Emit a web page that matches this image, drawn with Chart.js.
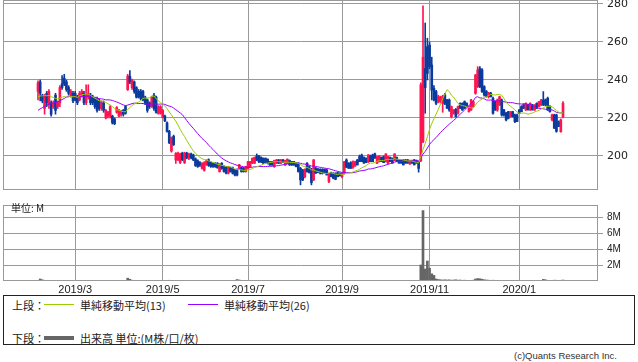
<!DOCTYPE html>
<html>
<head>
<meta charset="utf-8">
<script src="https://cdn.jsdelivr.net/npm/chart.js@4.4.1/dist/chart.umd.min.js"></script>
<style>
  body { margin: 0; width: 638px; height: 362px; background: #fff; position: relative; overflow: hidden;
         font-family: "Noto Sans CJK JP", "DejaVu Sans", sans-serif; color: #222; }
  #priceChart { position: absolute; left: 0; top: 0; }
  #volChart { position: absolute; left: 0; top: 195px; }
  .unit { position: absolute; left: 11px; top: 202px; font-size: 10px; line-height: 12px; }
  #legend { position: absolute; left: 3px; top: 295px; width: 632px; height: 50px; border: 1px solid #222; box-sizing: border-box; }
  #legend .t { position: absolute; font-size: 11px; line-height: 14px; white-space: nowrap; }
  #legend .ln { position: absolute; height: 1px; width: 30px; }
  .copy { position: absolute; right: 21px; top: 350px; font-size: 9.5px; line-height: 12px;
          font-family: "Liberation Sans", sans-serif; color: #333; }
</style>
</head>
<body>
<canvas id="priceChart" width="638" height="192"></canvas>
<canvas id="volChart" width="638" height="100"></canvas>
<div class="unit">単位: M</div>
<div id="legend">
  <div class="t" style="left:8px;top:2px">上段：</div>
  <div class="ln" style="left:40px;top:8px;background:#99cc00"></div>
  <div class="t" style="left:76px;top:2px">単純移動平均(13)</div>
  <div class="ln" style="left:184px;top:8px;background:#9900ff"></div>
  <div class="t" style="left:220px;top:2px">単純移動平均(26)</div>
  <div class="t" style="left:8px;top:35px">下段：</div>
  <div class="ln" style="left:40px;top:40px;height:4px;background:#666"></div>
  <div class="t" style="left:76px;top:35px">出来高 単位:(M株/口/枚)</div>
</div>
<div class="copy">(c)Quants Research Inc.</div>

<script>
// daily candles, 2019/2/5 .. 2020/2/4 : [open, high, low, close]
const ohlc = [
  [234,239.5,229.5,238.5],[239,240,229,233],[232,232.5,228,229],[225,232.5,222,232],[233,234,226,228],
  [227,235,225,234],[228,229,221,222],[226,229,225,228],[232,233,222,224],[226,229,225,228],
  [228,237,226,236],[238,242.3,235,236],[241,243,237,238],[239,240,234,235],[236,237,232,233],
  [232,235,231,234],[233,234,228,229],[233,234,229,229.5],[231,232,227,228],[229.5,234,229,233],
  [232,235,231,234],[233,234,227,228],[228,237.5,227,232],[231,237.5,230,233],[232,233,227,228],
  [231,232,227,228],[230,231,225,226],[230,231,223,224],[229,230,224,225],[225,229,224,228],
  [228,229,223,224],[220,224.5,219.5,224],[221,223.5,220,223],[221,226.5,220,226],[221,221.5,216.8,217.5],
  [219.5,220,216.5,217],[223,226,222.5,225.5],[221,224.5,220.5,224],[222,224,221,223.5],[224,224.5,221,222],
  [226,226.5,222,222.5],[235,243,234.5,242],[242,245,238,239],[236,240.5,235,240],[239,239.5,233,234],
  [236,236.5,230.5,231],[234,235,230.5,231],[234,235,229.5,230],[234,234.5,229,229.5],[231,231.5,227,228],
  [229.5,230,223,224],[228,228.5,225,226],[226,231.5,225.5,231],[232,233,224,225],[231,231.5,222.5,223],
  [222.5,226.5,222,226],[222.5,226.5,222,226],[220.5,224.5,220,224],[221,221.5,218,218.5],[217.4,218,212.5,213],
  [213,213.5,206.5,207],[202.6,210,202,209.6],[210.4,211,205.5,206],[197.9,201.8,196.1,201.4],[198,202,197.5,201.5],
  [196.5,201.5,196,201],[201.5,202,197.5,198],[196.5,202,196,201.5],[201.5,202,198.5,199],[199,201.5,198,201],
  [201,201.5,198.5,199],[200.5,201,197.5,198],[198.5,199,194.5,195],[197.5,198,194,194.5],[196.5,197,194.5,195],
  [193.5,196.5,193,196],[192.5,197,192,196.5],[195.5,198,195,197.5],[198,198.5,194.5,195],[196.5,197,194,194.5],
  [196,196.5,194,194.5],[196.2,196.5,194,194.4],[196.2,196.5,193.5,193.9],[191.8,196,191.5,195.6],[196.2,196.5,193,193.5],
  [194.4,195,191.5,191.8],[193.9,194.5,190.5,191],[190.9,194.6,190.5,194.4],[193.9,194.2,191.5,191.8],[193.9,194.2,190.5,190.9],
  [192.6,193,189.5,190],[193,193.3,189.5,190],[193.5,195.6,193,195.3],[193.9,194.2,191.5,191.8],[193.5,194,191.5,191.8],
  [191.8,194.6,191.5,194.4],[193.5,197.2,193,197],[194.4,197.2,194,197],[196.2,199,196,198.8],[196.2,199.5,196,199.3],
  [200,201.1,197.5,197.9],[200,200.3,196.5,197],[199.3,199.5,196.5,197],[198.8,199,196,196.2],[198.8,199,196.3,196.5],
  [198.3,198.5,195.8,196.2],[197,197.2,195,195.3],[197,197.2,195,195.3],[194.4,197.8,194,197.6],[196.2,198.2,196,197.9],
  [197.9,198.2,196,196.2],[196.2,198.2,196,197.9],[197.9,198.2,196.5,196.5],[195.3,197.8,195,197.6],[196.2,198.5,196,198.3],
  [197.6,197.9,195,195.3],[197,197.2,195,195.3],[197,197.2,195,195.3],[196.2,196.5,194.2,194.4],[196.2,196.5,191.5,191.8],
  [193.5,194,184.8,187.4],[192.6,193,187,187.4],[189.1,193.3,188.5,193],[196.2,196.5,191.5,191.8],[194.4,194.8,191,191.2],
  [193,193.5,184.8,186],[187.4,198.2,187,197.9],[193.5,194,190.9,190.9],[193,193.5,191.2,191.2],[193,193.3,190.5,190.9],
  [193,193.3,190.5,190.9],[193,193.2,191,191.2],[192.6,193,190,190],[186.5,191,186,190.9],[191.2,191.5,189,189.1],
  [190.9,191.2,188,188.3],[190.9,191.2,187.5,187.7],[191.2,191.5,189,189.1],[190.9,191.2,189.5,189.5],[189.1,191.2,188.5,190.9],
  [190.9,197.2,190.5,197],[197.9,198.5,194,194],[196.2,196.5,193.5,193.5],[196.5,197,193.5,193.5],[194,197.5,193.5,197],
  [194.7,197.3,194.5,197],[197.9,198.2,195.3,195.3],[199.7,200.5,197,197],[200.5,201,197,197],[199.3,199.5,196.2,196.2],
  [198.8,199,196.5,196.5],[197,200.8,196.5,200.5],[200,200.5,197,197],[200.5,201,197,197],[201.1,201.5,198.8,198.8],
  [196.2,199.8,196,199.7],[197,200.2,196.8,200],[199.3,199.5,197,197],[199.7,200,196.5,196.5],[197,201.2,196.8,201.1],
  [196.2,199.8,196,199.7],[199.3,199.5,197,197],[198.8,199,196.2,196.2],[197.9,201.2,197.5,201.1],[199.3,199.5,197,197],
  [197.9,198.2,196.2,196.2],[197.9,198.2,196.2,196.2],[197.9,198.2,195.3,195.3],[197.9,198.2,196.2,196.2],[197.9,198.2,196.2,196.2],
  [195.8,197.8,195.5,197.6],[197.6,197.9,196.2,196.2],[197.9,198.2,195.3,195.3],[197.6,197.9,196.2,196.2],[197,197.3,191.5,193.5],
  [197.5,238.5,197,237.5],[207.5,279,207,252],[246,270,222.5,236],[257.5,262,240,243.5],[258.4,260,246,247],
  [247.9,252,229.5,234.7],[235.6,237,229,229.5],[233.9,234.5,227,227.7],[228.6,232,228,231.2],[228.6,231.5,228,231.2],
  [227.7,232,223,231.2],[232.1,233,227,227.7],[229.5,229.8,225,225.1],[229.5,230,223.5,224.2],[220.7,226.3,220,226],
  [222.5,224.5,222,224.2],[224.6,225,220.5,220.7],[222.5,226.3,222,226],[227.7,228,225,225.1],[227.7,228,224,224.2],
  [228.6,229,225,225.1],[227.7,228,225.8,226],[223.3,226.3,223,226],[224.2,229.8,224,229.5],[226,229,225.5,228.6],
  [233,243,232.5,242.6],[236.5,247,236,245.3],[246,247,236,236.5],[245.3,246,233.5,233.9],[236.5,237,231.5,232.1],
  [233.9,234.5,231,231.2],[231.2,233.5,230.5,233.3],[233,233.5,231,231.2],[230.4,231,222,222.5],[228.6,229,224,224.2],
  [224.2,230,223.5,229.5],[226.9,231.5,226.5,231.2],[229.5,230,221,221.6],[224.2,224.5,221,221.6],[222.5,223,218.5,219],
  [223.3,223.5,219.5,219.8],[220.7,223.5,220.5,223.3],[223.3,223.5,220.5,220.7],[221.6,222,217.5,218.1],[221.6,222,218,218.1],
  [224.2,224.5,222.2,222.5],[226,226.5,223.3,223.3],[226.9,227.5,225,225.1],[224.2,228,224,227.7],[226.9,227.2,224.2,224.2],
  [224.2,228,224,227.7],[226.9,227.2,224.2,224.2],[224.2,227,224,226.9],[227.7,228,225,225.1],[226,228.8,225.8,228.6],
  [226.9,229.8,226.5,229.5],[229.5,233.9,226.5,226.9],[229.5,230,226.5,226.9],[230.4,231,224,224.2],[226,226.5,223,223.3],
  [219,222,218.5,221.6],[221.6,222,214.5,214.6],[221.6,222,212.5,213],[218,218.5,215.5,215.5],[212.8,219.5,212.5,219],
  [220.7,228.6,220,227.7]
];

// closes of the 25 sessions before the window (only used to start the moving averages)
const priorCloses = [212,213,215,214,216,218,217,219,220,218,221,222,216,
                     226,228,229,231,230,232,233,231,230,232,229,234];

// volume, millions
const volumes = [
  0.08,0.25,0.15,0.06,0.05,0.05,0.06,0.04,0.05,0.05, 0.07,0.06,0.08,0.05,0.04,0.04,0.05,0.05,0.04,0.05,
  0.04,0.04,0.06,0.05,0.04,0.04,0.04,0.05,0.04,0.04, 0.04,0.05,0.04,0.05,0.06,0.05,0.04,0.04,0.04,0.04,
  0.05,0.35,0.22,0.10,0.07,0.06,0.05,0.05,0.05,0.04, 0.05,0.04,0.05,0.05,0.05,0.04,0.04,0.05,0.05,0.08,
  0.09,0.08,0.07,0.06,0.06,0.05,0.05,0.05,0.04,0.04, 0.04,0.04,0.05,0.05,0.04,0.04,0.04,0.04,0.04,0.04,
  0.04,0.04,0.04,0.04,0.04,0.04,0.05,0.04,0.04,0.05, 0.05,0.18,0.12,0.05,0.04,0.04,0.04,0.04,0.04,0.04,
  0.04,0.04,0.04,0.04,0.04,0.04,0.04,0.04,0.04,0.04, 0.04,0.04,0.04,0.04,0.04,0.04,0.04,0.04,0.05,0.06,
  0.08,0.06,0.05,0.05,0.05,0.07,0.08,0.05,0.04,0.04, 0.04,0.04,0.04,0.05,0.04,0.04,0.04,0.04,0.04,0.04,
  0.06,0.05,0.04,0.04,0.04,0.04,0.04,0.04,0.04,0.04, 0.04,0.04,0.04,0.04,0.04,0.04,0.04,0.04,0.04,0.04,
  0.04,0.04,0.04,0.04,0.04,0.04,0.04,0.04,0.04,0.04, 0.04,0.04,0.04,0.04,0.06,2.0,8.8,1.5,2.5,1.6,
  0.9,0.7,0.25,0.18,0.15,0.12,0.15,0.12,0.14,0.10, 0.12,0.15,0.10,0.12,0.08,0.10,0.08,0.07,0.08,0.10,
  0.25,0.30,0.28,0.22,0.15,0.12,0.10,0.08,0.10,0.08, 0.07,0.08,0.07,0.06,0.06,0.05,0.05,0.06,0.06,0.05,
  0.05,0.05,0.05,0.05,0.04,0.04,0.04,0.04,0.05,0.05, 0.08,0.20,0.15,0.08,0.06,0.08,0.10,0.09,0.07,0.09,
  0.12
];

// month ticks: session index and label
const tickIndex = [17, 57, 96, 139, 179, 220];
const tickLabels = ['2019/3', '2019/5', '2019/7', '2019/9', '2019/11', '2020/1'];
const priceTicks = [200, 220, 240, 260, 280];
const volTicks = [2, 4, 6, 8];

const RED = '#ff1450';
const BLUE = '#0a3a9c';
const GRID = '#999999';

const allCloses = priorCloses.concat(ohlc.map(d => d[3]));
function sma(n) {
    return ohlc.map((d, i) => {
        const end = i + priorCloses.length;
        const win = allCloses.slice(end - n + 1, end + 1);
        return { x: i, y: win.reduce((a, b) => a + b, 0) / win.length };
    });
}
const colors = ohlc.map(d => d[3] >= d[0] ? RED : BLUE);

// frame around the plot area
const framePlugin = {
    id: 'frame',
    afterDraw: (chart) => {
        const { ctx, chartArea: { left, top, right, bottom } } = chart;
        ctx.save();
        ctx.strokeStyle = GRID;
        ctx.lineWidth = 1;
        ctx.strokeRect(Math.floor(left) + 0.5, Math.floor(top) + 0.5,
                       Math.round(right - left) - 1, Math.round(bottom - top) - 1);
        ctx.restore();
    }
};

const xScale = (showLabels) => ({
    type: 'linear', min: -16, max: 256, offset: false,
    afterBuildTicks: (s) => { s.ticks = tickIndex.map(v => ({ value: v })); },
    afterFit: (s) => { s.height = showLabels ? 14 : 0; },
    grid: { color: GRID, drawTicks: false, offset: false },
    border: { display: false },
    ticks: {
        display: showLabels, padding: 2, color: '#222', maxRotation: 0, autoSkip: false,
        font: { family: 'Liberation Sans', size: 11 },
        callback: (v) => tickLabels[tickIndex.indexOf(v)]
    }
});

new Chart(document.getElementById('priceChart'), {
    type: 'bar',
    data: {
        datasets: [
            { type: 'line', data: sma(13), borderColor: '#99cc00', borderWidth: 1, pointRadius: 0, order: 0 },
            { type: 'line', data: sma(26), borderColor: '#9900ff', borderWidth: 1, pointRadius: 0, order: 1 },
            { data: ohlc.map((d, i) => ({ x: i, y: [d[0], d[3]] })), backgroundColor: colors,
              barThickness: 2, grouped: false, minBarLength: 1, order: 2 },
            { data: ohlc.map((d, i) => ({ x: i, y: [d[2], d[1]] })), backgroundColor: colors,
              barThickness: 1, grouped: false, order: 3 }
        ]
    },
    options: {
        responsive: false, animation: false, events: [],
        layout: { padding: { left: 3, top: 0, right: 0, bottom: 2 } },
        plugins: { legend: { display: false }, tooltip: { enabled: false } },
        scales: {
            x: xScale(false),
            y: {
                position: 'right', min: 182.1, max: 282.1,
                afterBuildTicks: (s) => { s.ticks = priceTicks.map(v => ({ value: v })); },
                // fixed width, and no extra room for the 280 label at the top edge
                afterFit: (s) => { s.width = 40; s.paddingTop = 0; s.paddingBottom = 0; },
                grid: { color: GRID, tickLength: 5 },
                border: { display: false },
                ticks: { color: '#222', padding: 4, font: { family: 'DejaVu Sans', size: 11 } }
            }
        }
    },
    plugins: [framePlugin]
});

new Chart(document.getElementById('volChart'), {
    type: 'bar',
    data: {
        datasets: [{ data: volumes.map((v, i) => ({ x: i, y: v })), backgroundColor: '#666666',
                     barThickness: 2, grouped: false }]
    },
    options: {
        responsive: false, animation: false, events: [],
        layout: { padding: { left: 3, top: 6, right: 0, bottom: 0 } },
        plugins: { legend: { display: false }, tooltip: { enabled: false } },
        scales: {
            x: xScale(true),
            y: {
                position: 'right', min: 0, max: 9.5,
                afterBuildTicks: (s) => { s.ticks = volTicks.map(v => ({ value: v })); },
                afterFit: (s) => { s.width = 40; },
                grid: { color: GRID, tickLength: 5 },
                border: { display: false },
                ticks: { color: '#222', padding: 4, font: { family: 'Liberation Sans', size: 10 },
                         callback: (v) => v + 'M' }
            }
        }
    },
    plugins: [framePlugin]
});
</script>
</body>
</html>
